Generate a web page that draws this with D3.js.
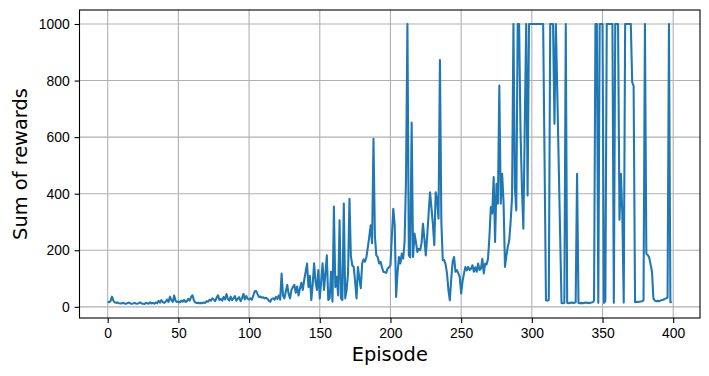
<!DOCTYPE html>
<html>
<head>
<meta charset="utf-8">
<title>Sum of rewards per episode</title>
<script src="https://d3js.org/d3.v7.min.js"></script>
<style>
  body { margin: 0; background: #fff; }
  svg { display: block; font-family: "DejaVu Sans", sans-serif; }
  .tick text { font-size: 13.9px; fill: #000; }
  .tick line { stroke: #000; stroke-width: 1.1; }
  .domain { display: none; }
</style>
</head>
<body>
<div id="chart"></div>
<script>
// rewards per episode (episode = index)
var rewards0 = [
  18,16,20,36,22,16,14,15,13,12,
  13,14,12,11,13,15,12,11,12,14,
  12,11,13,16,12,11,10,14,13,11,
  16,12,14,11,15,13,21,15,24,16,
  14,18,26,17,36,24,17,40,21,17,
  19,16,22,18,25,17,20,28,22,35,
  41,22,15,14,14,13,14,13,15,14,
  20,18,25,22,30,26,20,32,41,24,
  28,22,35,26,45,28,22,36,24,30,
  38,22,28,34,20,30,46,26,38,28
];
var rewards1 = [
  26,30,25,40,55,56,45,35,36,32,
  34,30,32,28,22,18,28,30,25,35,
  28,40,25,118,40,30,55,77,45,30,
  60,70,78,50,72,40,65,85,60,95,
  124,153,70,110,24,80,154,90,60,130,
  30,90,154,60,120,182,24,30,124,18,
  355,70,106,40,306,30,24,365,30,60,
  118,382,180,147,141,90,30,141,100,66,
  154,168,160,176,210,247,288,225,594,250,
  182,176,153,159,140,124,122,120,135,140
];
var rewards2 = [
  147,250,347,290,35,120,176,153,188,170,
  230,450,1000,182,175,652,176,259,230,194,
  205,200,225,294,240,182,250,330,405,350,
  294,218,405,380,312,873,300,165,165,150,
  118,60,23,100,159,176,124,130,118,106,
  47,90,118,141,129,141,130,135,147,124,
  140,124,153,130,135,170,118,153,150,170,
  247,353,330,459,229,435,365,782,365,470,
  370,141,180,212,235,300,388,1000,423,341,
  1000,1000,620,420,276,640,1000,394,1000,1000
];
var rewards3 = [
  1000,1000,1000,1000,1000,1000,1000,1000,1000,520,
  23,22,25,1000,1000,1000,647,1000,760,510,
  260,14,13,14,1000,14,13,14,15,14,
  14,16,470,14,13,14,13,14,15,14,
  14,13,15,16,22,1000,1000,14,1000,1000,
  1000,14,20,1000,1000,1000,1000,1000,14,1000,
  1000,1000,308,470,330,15,1000,1000,1000,1000,
  1000,794,780,16,18,17,18,19,20,23,
  1000,188,183,175,150,124,30,22,20,21,
  20,22,24,25,28,30,33,1000,16,17
];
var xTicks = [0, 50, 100, 150, 200, 250, 300, 350, 400];
var yTicks = [0, 200, 400, 600, 800, 1000];

var rewards = rewards0.concat(rewards1, rewards2, rewards3);
var data = rewards.map(function (r, i) { return { episode: i, reward: r }; });

var W = 709, H = 376;
var plot = { left: 79.5, right: 700, top: 10, bottom: 318 };

var svg = d3.select("#chart").append("svg")
    .attr("width", W).attr("height", H);

// matplotlib-style 5% margins
var xMax = d3.max(data, function (d) { return d.episode; });
var yMin = d3.min(rewards), yMax = d3.max(rewards);
var xPad = 0.05 * xMax, yPad = 0.05 * (yMax - yMin);

var x = d3.scaleLinear().domain([-xPad, xMax + xPad]).range([plot.left, plot.right]);
var y = d3.scaleLinear().domain([yMin - yPad, yMax + yPad]).range([plot.bottom, plot.top]);

// grid
svg.append("g").selectAll("line").data(xTicks).enter().append("line")
    .attr("x1", function (d) { return x(d); }).attr("x2", function (d) { return x(d); })
    .attr("y1", plot.top).attr("y2", plot.bottom)
    .attr("stroke", "#b0b0b0").attr("stroke-width", 1.1);
svg.append("g").selectAll("line").data(yTicks).enter().append("line")
    .attr("y1", function (d) { return y(d); }).attr("y2", function (d) { return y(d); })
    .attr("x1", plot.left).attr("x2", plot.right)
    .attr("stroke", "#b0b0b0").attr("stroke-width", 1.1);

// the line
var line = d3.line()
    .x(function (d) { return x(d.episode); })
    .y(function (d) { return y(d.reward); });

svg.append("path")
    .datum(data)
    .attr("d", line)
    .attr("fill", "none")
    .attr("stroke", "#1f77b4")
    .attr("stroke-width", 2.08)
    .attr("stroke-linejoin", "round");

// axes
svg.append("g")
    .attr("transform", "translate(0," + plot.bottom + ")")
    .call(d3.axisBottom(x).tickValues(xTicks).tickSize(4.9).tickPadding(4.9).tickFormat(d3.format("d")));
svg.append("g")
    .attr("transform", "translate(" + plot.left + ",0)")
    .call(d3.axisLeft(y).tickValues(yTicks).tickSize(4.9).tickPadding(4.9).tickFormat(d3.format("d")));

// frame
svg.append("rect")
    .attr("x", plot.left).attr("y", plot.top)
    .attr("width", plot.right - plot.left).attr("height", plot.bottom - plot.top)
    .attr("fill", "none").attr("stroke", "#000").attr("stroke-width", 1.1);

// labels
svg.append("text")
    .attr("x", (plot.left + plot.right) / 2).attr("y", 361)
    .attr("text-anchor", "middle")
    .style("font-size", "19.4px")
    .text("Episode");

svg.append("text")
    .attr("transform", "translate(27," + (plot.top + plot.bottom) / 2 + ") rotate(-90)")
    .attr("text-anchor", "middle")
    .style("font-size", "19.4px")
    .text("Sum of rewards");
</script>
</body>
</html>
